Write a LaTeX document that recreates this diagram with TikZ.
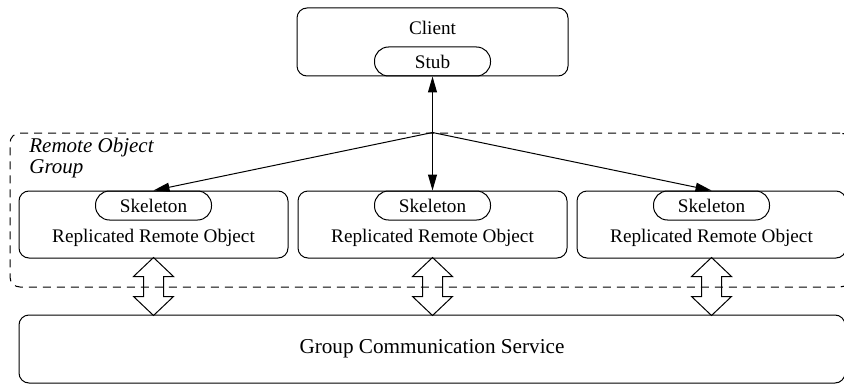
\documentclass[tikz,border=0pt]{standalone}
\usepackage{fontspec}
\setmainfont{Liberation Serif}
\usepackage{tikz}
\usetikzlibrary{arrows.meta,positioning,calc}

\begin{document}
\begin{tikzpicture}[
  x=0.5pt, y=-0.5pt,
  font=\fontsize{9.6}{11}\selectfont,
  box/.style={draw, rounded corners=5pt, minimum width=134.5pt, minimum height=33.5pt, line width=0.5pt},
  pill/.style={draw, rounded corners=7pt, minimum width=58pt, minimum height=14.5pt, inner sep=0pt, line width=0.5pt},
  grp/.style={draw, dash pattern=on 4pt off 3pt, rounded corners=5pt, minimum width=420pt, minimum height=77pt, line width=0.5pt},
  dbl/.style={draw, line width=0.5pt, line join=miter},
  arr/.style={-{Triangle[length=8pt,width=4.5pt]}, line width=0.5pt}
]
  \useasboundingbox (0,0) rectangle (844,385);

  % client side
  \node[box, minimum width=135.5pt, minimum height=34pt] (client) at (432.5,42) {};
  \node (clienttxt) at ($(client.north)+(0,20)$) {Client};
  \node[pill, above=0pt of client.south] (stub) {Stub};

  % replicated group
  \node[grp] (group) at (430,210) {};
  \node[font=\fontsize{10.5}{8.5}\selectfont\itshape, align=left, anchor=north west, inner sep=0pt] (grplabel) at (29,138) {Remote Object\\Group};

  \node[box] (rep1) at (153.5,224.5) {};
  \node[box, right=4.5pt of rep1] (rep2) {};
  \node[box, right=4.5pt of rep2] (rep3) {};
  \foreach \r in {1,2,3}{
    \node[pill, below=0pt of rep\r.north] (skel\r) {Skeleton};
    \node (rep\r txt) at ($(rep\r.south)+(0,-21)$) {Replicated Remote Object};
  }

  % group communication
  \node[draw, rounded corners=5pt, minimum width=413pt, minimum height=34pt, line width=0.5pt, font=\fontsize{10.6}{12}\selectfont] (gcs) at (432,349) {Group Communication Service};

  % invocation arrows
  \coordinate (hub) at (stub.south |- group.north);
  \draw[arr, {Triangle[length=8pt,width=4.5pt]}-{Triangle[length=8pt,width=4.5pt]}] (stub.south) -- (skel2.north);
  \draw[arr] (hub) -- (skel1.north);
  \draw[arr] (hub) -- (skel3.north);

  % group messaging
  \foreach \r in {1,2,3}{
    \coordinate (msg\r) at ($(rep\r.south)!0.5!(rep\r.south |- gcs.north)$);
    \draw[dbl] (msg\r) ++(0,-29) -- ++(20,19) -- ++(-10,0) -- ++(0,20) -- ++(10,0)
      -- ++(-20,19) -- ++(-20,-19) -- ++(10,0) -- ++(0,-20) -- ++(-10,0) -- cycle;
  }
\end{tikzpicture}
\end{document}
